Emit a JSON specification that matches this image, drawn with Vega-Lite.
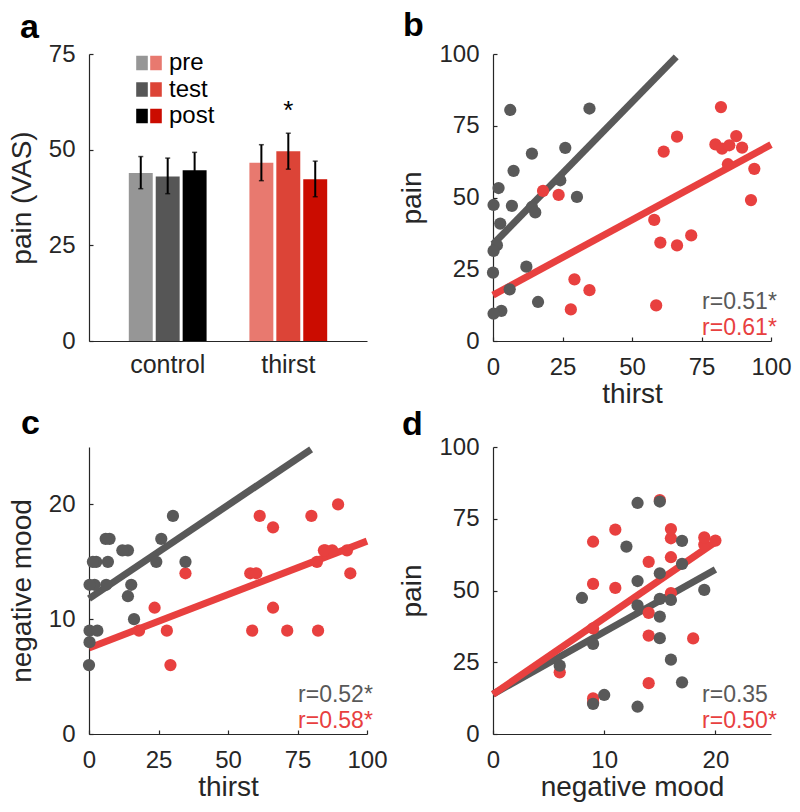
{
  "$schema": "https://vega.github.io/schema/vega-lite/v6.json",
  "background": "white",
  "padding": {"left": 8, "top": 8, "right": 5, "bottom": 5},
  "bounds": "flush",
  "columns": 2,
  "spacing": {"row": 106, "column": 126},
  "datasets": {
    "bars": [
      {"group": "control", "phase": "pre", "mean": 43.9, "lo": 39.8, "hi": 48.2, "sig": ""},
      {"group": "control", "phase": "test", "mean": 43.0, "lo": 38.5, "hi": 47.8, "sig": ""},
      {"group": "control", "phase": "post", "mean": 44.6, "lo": 39.9, "hi": 49.3, "sig": ""},
      {"group": "thirst", "phase": "pre", "mean": 46.6, "lo": 41.9, "hi": 51.3, "sig": ""},
      {"group": "thirst", "phase": "test", "mean": 49.6, "lo": 44.9, "hi": 54.3, "sig": "*"},
      {"group": "thirst", "phase": "post", "mean": 42.3, "lo": 37.7, "hi": 47.0, "sig": ""}
    ],
    "subj": [
      {"cond": "control", "thirst": 6.2, "pain": 80.5, "mood": 13},
      {"cond": "control", "thirst": 34.7, "pain": 81.0, "mood": 15},
      {"cond": "control", "thirst": 26.0, "pain": 67.3, "mood": 17},
      {"cond": "control", "thirst": 14.0, "pain": 65.3, "mood": 12},
      {"cond": "control", "thirst": 7.4, "pain": 59.3, "mood": 17},
      {"cond": "control", "thirst": 2.0, "pain": 53.3, "mood": 13},
      {"cond": "control", "thirst": 24.2, "pain": 56.0, "mood": 15},
      {"cond": "control", "thirst": 30.2, "pain": 50.2, "mood": 19},
      {"cond": "control", "thirst": 0.2, "pain": 47.4, "mood": 8},
      {"cond": "control", "thirst": 6.8, "pain": 47.1, "mood": 15},
      {"cond": "control", "thirst": 14.0, "pain": 46.7, "mood": 16},
      {"cond": "control", "thirst": 15.2, "pain": 44.8, "mood": 13},
      {"cond": "control", "thirst": 2.6, "pain": 40.9, "mood": 15},
      {"cond": "control", "thirst": 1.4, "pain": 33.4, "mood": 15},
      {"cond": "control", "thirst": 0.2, "pain": 31.4, "mood": 9},
      {"cond": "control", "thirst": 12.0, "pain": 25.9, "mood": 16},
      {"cond": "control", "thirst": 0.0, "pain": 23.8, "mood": 6},
      {"cond": "control", "thirst": 6.0, "pain": 18.0, "mood": 17},
      {"cond": "control", "thirst": 16.2, "pain": 13.6, "mood": 10},
      {"cond": "control", "thirst": 3.0, "pain": 10.5, "mood": 9},
      {"cond": "control", "thirst": 0.2, "pain": 9.5, "mood": 13},
      {"cond": "thirst", "thirst": 18.0, "pain": 52.3, "mood": 9},
      {"cond": "thirst", "thirst": 23.6, "pain": 50.9, "mood": 11},
      {"cond": "thirst", "thirst": 29.3, "pain": 21.5, "mood": 6},
      {"cond": "thirst", "thirst": 34.7, "pain": 17.7, "mood": 14},
      {"cond": "thirst", "thirst": 28.0, "pain": 11.0, "mood": 9},
      {"cond": "thirst", "thirst": 58.7, "pain": 12.4, "mood": 9},
      {"cond": "thirst", "thirst": 58.0, "pain": 42.2, "mood": 14},
      {"cond": "thirst", "thirst": 60.2, "pain": 34.3, "mood": 14},
      {"cond": "thirst", "thirst": 66.2, "pain": 33.3, "mood": 18},
      {"cond": "thirst", "thirst": 71.3, "pain": 36.8, "mood": 9},
      {"cond": "thirst", "thirst": 61.4, "pain": 66.0, "mood": 19},
      {"cond": "thirst", "thirst": 66.2, "pain": 71.2, "mood": 11},
      {"cond": "thirst", "thirst": 82.0, "pain": 81.5, "mood": 15},
      {"cond": "thirst", "thirst": 80.0, "pain": 68.5, "mood": 19},
      {"cond": "thirst", "thirst": 82.4, "pain": 67.0, "mood": 9},
      {"cond": "thirst", "thirst": 85.0, "pain": 68.2, "mood": 16},
      {"cond": "thirst", "thirst": 87.5, "pain": 71.4, "mood": 16},
      {"cond": "thirst", "thirst": 89.6, "pain": 67.4, "mood": 20},
      {"cond": "thirst", "thirst": 84.5, "pain": 61.6, "mood": 16},
      {"cond": "thirst", "thirst": 94.0, "pain": 60.0, "mood": 14},
      {"cond": "thirst", "thirst": 92.8, "pain": 49.1, "mood": 16}
    ],
    "fits": [
      {"panel": "b", "cond": "control", "x1": 0, "y1": 33.7, "x2": 65.9, "y2": 99.0},
      {"panel": "b", "cond": "thirst", "x1": 0, "y1": 16.0, "x2": 100, "y2": 68.4},
      {"panel": "c", "cond": "control", "x1": 0, "y1": 11.8, "x2": 79.9, "y2": 24.8},
      {"panel": "c", "cond": "thirst", "x1": 0, "y1": 7.5, "x2": 100, "y2": 16.8},
      {"panel": "d", "cond": "control", "x1": 0, "y1": 13.9, "x2": 20, "y2": 57.3},
      {"panel": "d", "cond": "thirst", "x1": 0, "y1": 13.8, "x2": 20, "y2": 66.9}
    ],
    "stats": [
      {"panel": "b", "cond": "control", "label": "r=0.51*"},
      {"panel": "b", "cond": "thirst", "label": "r=0.61*"},
      {"panel": "c", "cond": "control", "label": "r=0.52*"},
      {"panel": "c", "cond": "thirst", "label": "r=0.58*"},
      {"panel": "d", "cond": "control", "label": "r=0.35"},
      {"panel": "d", "cond": "thirst", "label": "r=0.50*"}
    ]
  },
  "config": {
    "font": "Liberation Sans",
    "view": {"stroke": null},
    "axis": {
      "grid": false,
      "domainColor": "#262626", "domainWidth": 1.2,
      "tickColor": "#262626", "tickWidth": 1.2, "tickSize": -4,
      "labelColor": "#262626", "labelFontSize": 24, "labelFlush": false, "labelOverlap": false, "labelBound": false,
      "titleColor": "#262626", "titleFontSize": 28, "titleFontWeight": "normal", "titlePadding": 12
    },
    "axisLeft": {"labelPadding": 18},
    "axisBottom": {"labelPadding": 18, "titlePadding": 1},
    "title": {"anchor": "start", "frame": "group", "fontSize": 34, "fontWeight": "bold", "color": "black", "baseline": "alphabetic"}
  },
  "concat": [
    {
      "width": 278, "height": 287,
      "title": {"text": "a", "dx": -69, "offset": -3},
      "data": {"name": "bars"},
      "encoding": {
        "x": {"field": "group", "type": "nominal", "scale": {"domain": ["control", "thirst"], "paddingInner": 0.355, "paddingOuter": 0.33}, "axis": {"title": null, "labelAngle": 0, "ticks": false, "labelFontSize": 25, "labelPadding": 11}},
        "xOffset": {"field": "phase", "type": "nominal", "scale": {"domain": ["pre", "test", "post"], "paddingInner": 0.111, "paddingOuter": 0}}
      },
      "layer": [
        {
          "transform": [{"filter": "datum.group == 'control'"}],
          "mark": {"type": "bar"},
          "encoding": {
            "y": {"field": "mean", "type": "quantitative", "scale": {"domain": [0, 75], "nice": false}, "axis": {"title": "pain (VAS)", "values": [0, 25, 50, 75]}},
            "fill": {"field": "phase", "type": "nominal", "scale": {"domain": ["pre", "test", "post"], "range": ["#969696", "#565656", "#000000"]},
              "legend": {"orient": "none", "legendX": 41, "legendY": -3, "title": null, "padding": 0, "symbolType": "M-0.8,-1H0.8V1H-0.8Z", "symbolSize": 210, "symbolStrokeWidth": 0, "symbolOpacity": 1, "labelFontSize": 24, "labelExpr": "' '", "labelOpacity": 0, "rowPadding": 2.5}}
          }
        },
        {
          "transform": [{"filter": "datum.group == 'thirst'"}],
          "mark": {"type": "bar"},
          "encoding": {
            "y": {"field": "mean", "type": "quantitative", "title": "pain (VAS)"},
            "fill": {"field": "phase", "type": "nominal", "scale": {"domain": ["pre", "test", "post"], "range": ["#E8796F", "#DC4437", "#CB0C00"]},
              "legend": {"orient": "none", "legendX": 55, "legendY": -3, "title": null, "padding": 0, "symbolType": "M-0.8,-1H0.8V1H-0.8Z", "symbolSize": 210, "symbolStrokeWidth": 0, "symbolOpacity": 1, "labelFontSize": 24, "labelColor": "black", "labelOffset": 1, "rowPadding": 2.5}}
          }
        },
        {
          "mark": {"type": "rule", "color": "black", "strokeWidth": 2},
          "encoding": {"y": {"field": "lo", "type": "quantitative", "title": "pain (VAS)"}, "y2": {"field": "hi"}}
        },
        {
          "mark": {"type": "tick", "color": "black", "size": 5, "thickness": 1.5},
          "encoding": {"y": {"field": "lo", "type": "quantitative", "title": "pain (VAS)"}}
        },
        {
          "mark": {"type": "tick", "color": "black", "size": 5, "thickness": 1.5},
          "encoding": {"y": {"field": "hi", "type": "quantitative", "title": "pain (VAS)"}}
        },
        {
          "transform": [{"filter": "datum.sig != ''"}],
          "mark": {"type": "text", "fontSize": 26, "baseline": "alphabetic", "dy": -14, "color": "black"},
          "encoding": {"y": {"field": "hi", "type": "quantitative", "title": "pain (VAS)"}, "text": {"field": "sig"}}
        }
      ],
      "resolve": {"scale": {"fill": "independent"}, "legend": {"fill": "independent"}}
    },
    {
      "width": 278, "height": 287,
      "title": {"text": "b", "dx": -90, "offset": -0.5},
      "layer": [
        {
          "data": {"name": "fits"},
          "transform": [{"filter": "datum.panel == 'b'"}],
          "mark": {"type": "rule", "strokeWidth": 7, "strokeCap": "butt"},
          "encoding": {
            "x": {"field": "x1", "type": "quantitative", "scale": {"domain": [0, 100], "nice": false}, "axis": {"title": "thirst", "values": [0, 25, 50, 75, 100]}},
            "y": {"field": "y1", "type": "quantitative", "scale": {"domain": [0, 100], "nice": false}, "axis": {"title": "pain", "values": [0, 25, 50, 75, 100]}},
            "x2": {"field": "x2"}, "y2": {"field": "y2"},
            "color": {"field": "cond", "type": "nominal", "scale": {"domain": ["control", "thirst"], "range": ["#595959", "#E8403F"]}, "legend": null}
          }
        },
        {
          "data": {"name": "subj"},
          "mark": {"type": "circle", "size": 150, "opacity": 1},
          "encoding": {
            "x": {"field": "thirst", "type": "quantitative", "title": "thirst"},
            "y": {"field": "pain", "type": "quantitative", "title": "pain"},
            "color": {"field": "cond", "type": "nominal", "legend": null},
            "order": {"field": "cond", "sort": "descending"}
          }
        },
        {
          "data": {"name": "stats"},
          "transform": [{"filter": "datum.panel == 'b' && datum.cond == 'control'"}],
          "mark": {"type": "text", "align": "left", "baseline": "alphabetic", "fontSize": 23, "dy": -32},
          "encoding": {"x": {"datum": 75.2}, "y": {"datum": 0}, "text": {"field": "label"}, "color": {"field": "cond", "type": "nominal", "legend": null}}
        },
        {
          "data": {"name": "stats"},
          "transform": [{"filter": "datum.panel == 'b' && datum.cond == 'thirst'"}],
          "mark": {"type": "text", "align": "left", "baseline": "alphabetic", "fontSize": 23, "dy": -6},
          "encoding": {"x": {"datum": 75.2}, "y": {"datum": 0}, "text": {"field": "label"}, "color": {"field": "cond", "type": "nominal", "legend": null}}
        }
      ]
    },
    {
      "width": 278, "height": 287,
      "title": {"text": "c", "dx": -68, "offset": 4.5},
      "layer": [
        {
          "data": {"name": "fits"},
          "transform": [{"filter": "datum.panel == 'c'"}],
          "mark": {"type": "rule", "strokeWidth": 7, "strokeCap": "butt"},
          "encoding": {
            "x": {"field": "x1", "type": "quantitative", "scale": {"domain": [0, 100], "nice": false}, "axis": {"title": "thirst", "values": [0, 25, 50, 75, 100]}},
            "y": {"field": "y1", "type": "quantitative", "scale": {"domain": [0, 25], "nice": false}, "axis": {"title": "negative mood", "values": [0, 10, 20]}},
            "x2": {"field": "x2"}, "y2": {"field": "y2"},
            "color": {"field": "cond", "type": "nominal", "legend": null}
          }
        },
        {
          "data": {"name": "subj"},
          "mark": {"type": "circle", "size": 150, "opacity": 1},
          "encoding": {
            "x": {"field": "thirst", "type": "quantitative", "title": "thirst"},
            "y": {"field": "mood", "type": "quantitative", "title": "negative mood"},
            "color": {"field": "cond", "type": "nominal", "legend": null},
            "order": {"field": "cond", "sort": "descending"}
          }
        },
        {
          "data": {"name": "stats"},
          "transform": [{"filter": "datum.panel == 'c' && datum.cond == 'control'"}],
          "mark": {"type": "text", "align": "left", "baseline": "alphabetic", "fontSize": 23, "dy": -32},
          "encoding": {"x": {"datum": 75.2}, "y": {"datum": 0}, "text": {"field": "label"}, "color": {"field": "cond", "type": "nominal", "legend": null}}
        },
        {
          "data": {"name": "stats"},
          "transform": [{"filter": "datum.panel == 'c' && datum.cond == 'thirst'"}],
          "mark": {"type": "text", "align": "left", "baseline": "alphabetic", "fontSize": 23, "dy": -6},
          "encoding": {"x": {"datum": 75.2}, "y": {"datum": 0}, "text": {"field": "label"}, "color": {"field": "cond", "type": "nominal", "legend": null}}
        }
      ]
    },
    {
      "width": 278, "height": 287,
      "title": {"text": "d", "dx": -91, "offset": -6.5},
      "layer": [
        {
          "data": {"name": "fits"},
          "transform": [{"filter": "datum.panel == 'd'"}],
          "mark": {"type": "rule", "strokeWidth": 7, "strokeCap": "butt"},
          "encoding": {
            "x": {"field": "x1", "type": "quantitative", "scale": {"domain": [0, 25], "nice": false}, "axis": {"title": "negative mood", "values": [0, 10, 20]}},
            "y": {"field": "y1", "type": "quantitative", "scale": {"domain": [0, 100], "nice": false}, "axis": {"title": "pain", "values": [0, 25, 50, 75, 100]}},
            "x2": {"field": "x2"}, "y2": {"field": "y2"},
            "color": {"field": "cond", "type": "nominal", "legend": null}
          }
        },
        {
          "data": {"name": "subj"},
          "mark": {"type": "circle", "size": 150, "opacity": 1},
          "encoding": {
            "x": {"field": "mood", "type": "quantitative", "title": "negative mood"},
            "y": {"field": "pain", "type": "quantitative", "title": "pain"},
            "color": {"field": "cond", "type": "nominal", "legend": null},
            "order": {"field": "cond", "sort": "descending"}
          }
        },
        {
          "data": {"name": "stats"},
          "transform": [{"filter": "datum.panel == 'd' && datum.cond == 'control'"}],
          "mark": {"type": "text", "align": "left", "baseline": "alphabetic", "fontSize": 23, "dy": -32},
          "encoding": {"x": {"datum": 18.8}, "y": {"datum": 0}, "text": {"field": "label"}, "color": {"field": "cond", "type": "nominal", "legend": null}}
        },
        {
          "data": {"name": "stats"},
          "transform": [{"filter": "datum.panel == 'd' && datum.cond == 'thirst'"}],
          "mark": {"type": "text", "align": "left", "baseline": "alphabetic", "fontSize": 23, "dy": -6},
          "encoding": {"x": {"datum": 18.8}, "y": {"datum": 0}, "text": {"field": "label"}, "color": {"field": "cond", "type": "nominal", "legend": null}}
        }
      ]
    }
  ]
}
